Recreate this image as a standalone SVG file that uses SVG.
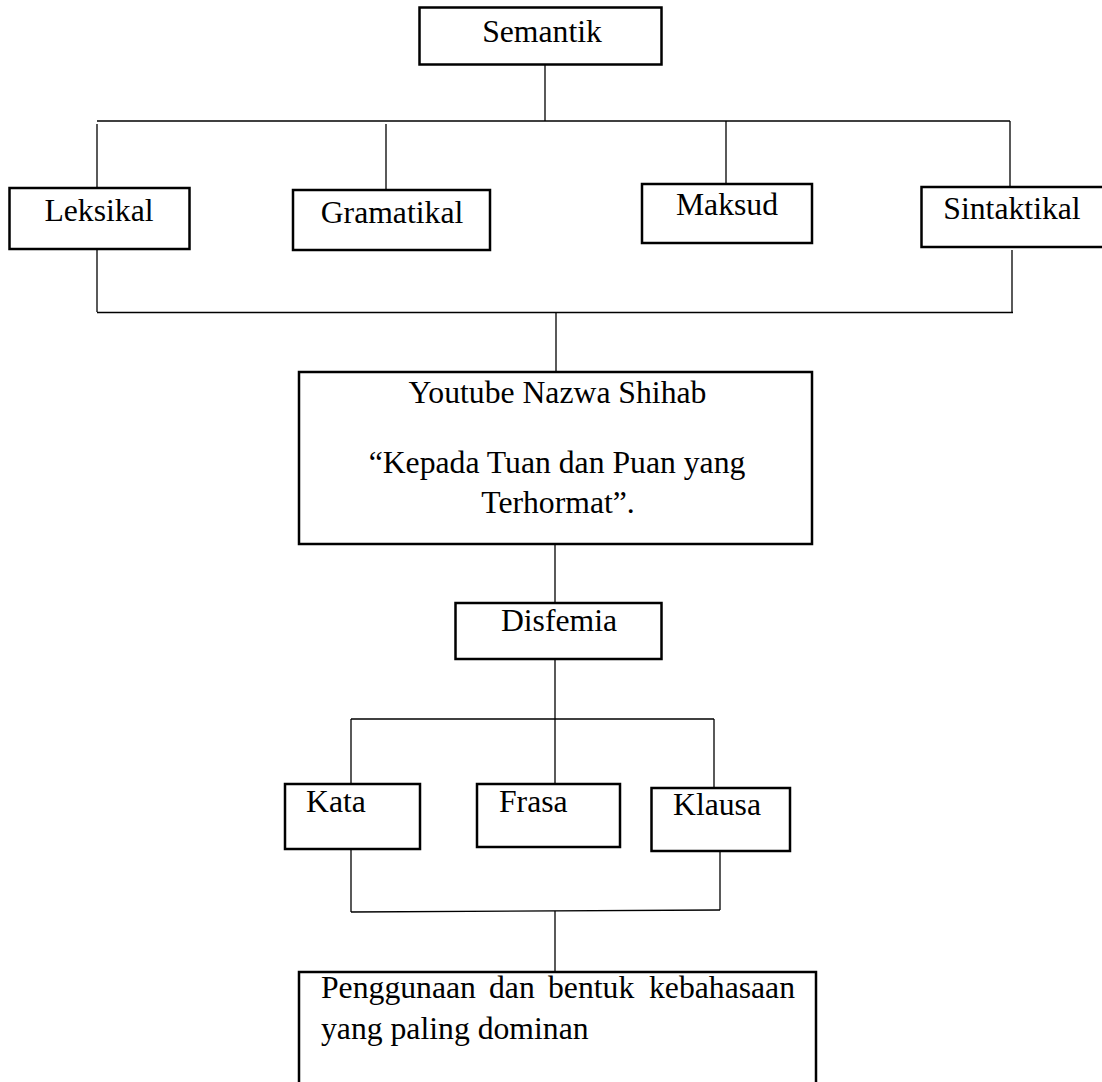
<svg xmlns="http://www.w3.org/2000/svg" width="1102" height="1082" viewBox="0 0 1102 1082">
<style>
.box{fill:#fff;stroke:#000;stroke-width:2.5}
.ln{stroke:#000;stroke-width:1.3;fill:none}
.t{font-family:"Liberation Serif","Times New Roman",serif;font-size:31.7px;fill:#000}
.c{text-anchor:middle}
</style>
<rect width="1102" height="1082" fill="#fff"/>
<g id="connectors">
<line class="ln" x1="545" y1="64" x2="545" y2="121"/>
<line class="ln" x1="97" y1="121" x2="1010" y2="121"/>
<line class="ln" x1="97" y1="124" x2="97" y2="188"/>
<line class="ln" x1="386" y1="124" x2="386" y2="190"/>
<line class="ln" x1="726" y1="121" x2="726" y2="184"/>
<line class="ln" x1="1010" y1="121" x2="1010" y2="187"/>
<line class="ln" x1="97" y1="246" x2="97" y2="312"/>
<line class="ln" x1="1012" y1="250" x2="1012" y2="312"/>
<line class="ln" x1="97" y1="312.5" x2="1013" y2="312.5"/>
<line class="ln" x1="556" y1="312" x2="556" y2="372"/>
<line class="ln" x1="555" y1="544" x2="555" y2="603"/>
<line class="ln" x1="555" y1="659" x2="555" y2="719"/>
<line class="ln" x1="351" y1="719" x2="714" y2="719"/>
<line class="ln" x1="351" y1="719" x2="351" y2="784"/>
<line class="ln" x1="555" y1="719" x2="555" y2="784"/>
<line class="ln" x1="714" y1="719" x2="714" y2="788"/>
<line class="ln" x1="351" y1="849" x2="351" y2="912"/>
<line class="ln" x1="720" y1="847" x2="720" y2="910"/>
<line class="ln" x1="351" y1="912" x2="720" y2="910"/>
<line class="ln" x1="555" y1="911" x2="555" y2="972"/>
</g>
<g id="semantik">
<rect class="box" x="419.5" y="7.5" width="242" height="57"/>
<text class="t c" x="542" y="42">Semantik</text>
</g>
<g id="leksikal">
<rect class="box" x="9.5" y="188" width="180" height="61"/>
<text class="t c" x="99" y="221">Leksikal</text>
</g>
<g id="gramatikal">
<rect class="box" x="293" y="190" width="197" height="60"/>
<text class="t c" x="392" y="223">Gramatikal</text>
</g>
<g id="maksud">
<rect class="box" x="642" y="184" width="170" height="59"/>
<text class="t c" x="727" y="215">Maksud</text>
</g>
<g id="sintaktikal">
<rect class="box" x="921.5" y="187" width="182" height="60"/>
<text class="t c" x="1012" y="219">Sintaktikal</text>
</g>
<g id="youtube">
<rect class="box" x="299" y="372" width="513" height="172"/>
<text class="t c" x="557.5" y="403">Youtube Nazwa Shihab</text>
<text class="t c" x="557" y="473">“Kepada Tuan dan Puan yang</text>
<text class="t c" x="558" y="513">Terhormat”.</text>
</g>
<g id="disfemia">
<rect class="box" x="455.5" y="603" width="206" height="56"/>
<text class="t c" x="559" y="631">Disfemia</text>
</g>
<g id="kata">
<rect class="box" x="285" y="784" width="135" height="65"/>
<text class="t" x="306" y="812">Kata</text>
</g>
<g id="frasa">
<rect class="box" x="477" y="784" width="143" height="63"/>
<text class="t" x="499" y="812">Frasa</text>
</g>
<g id="klausa">
<rect class="box" x="651.5" y="788" width="138.5" height="63"/>
<text class="t" x="673" y="815">Klausa</text>
</g>
<g id="penggunaan">
<rect class="box" x="299" y="972" width="517" height="130"/>
<text class="t" y="998"><tspan x="321">Penggunaan</tspan><tspan x="489">dan</tspan><tspan x="548">bentuk</tspan><tspan x="649">kebahasaan</tspan></text>
<text class="t" x="321" y="1039">yang paling dominan</text>
</g>
</svg>
